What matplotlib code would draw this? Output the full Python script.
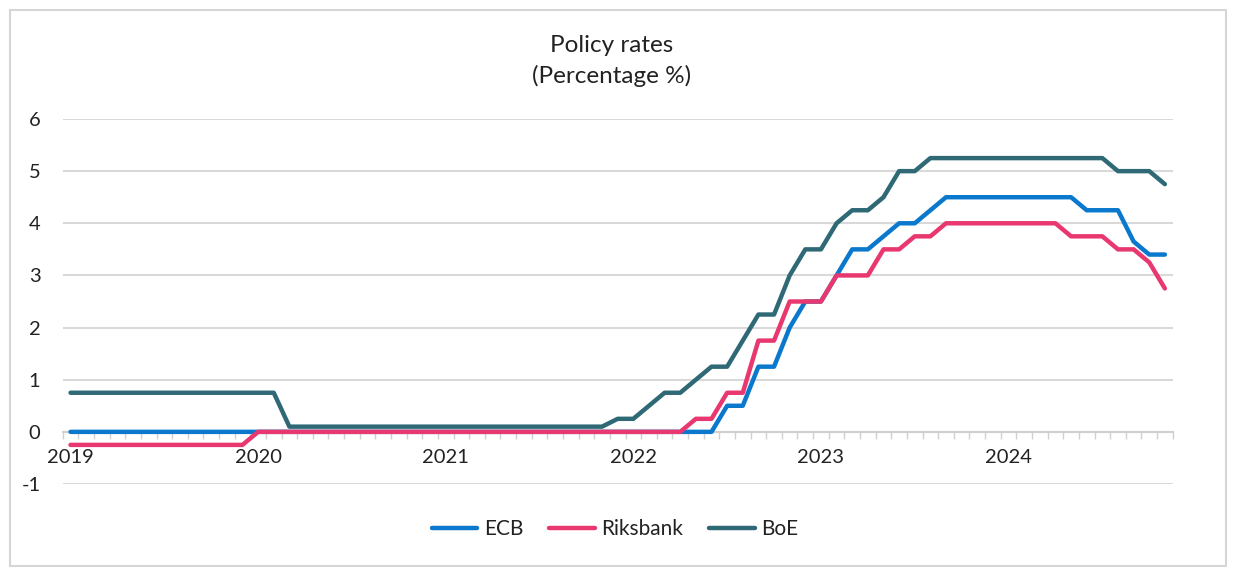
import matplotlib
matplotlib.use("Agg")
import matplotlib.pyplot as plt
import numpy as np
from matplotlib.patches import Rectangle

plt.rcParams['font.family'] = ['Lato', 'DejaVu Sans']

# Monthly, Jan 2019 .. Nov 2024 (71 months)
months = [f"{y}-{m:02d}" for y in range(2019, 2025) for m in range(1, 13)][:71]
year_labels = ["2019", "2020", "2021", "2022", "2023", "2024"]

ecb = ([0.0] * 42 +                      # Jan 2019 - Jun 2022
       [0.5, 0.5, 1.25, 1.25, 2.0, 2.5,  # Jul - Dec 2022
        2.5, 3.0, 3.5, 3.5, 3.75, 4.0, 4.0, 4.25, 4.5, 4.5, 4.5, 4.5,  # 2023
        4.5, 4.5, 4.5, 4.5, 4.5, 4.25, 4.25, 4.25, 3.65, 3.4, 3.4])     # 2024

riksbank = ([-0.25] * 12 +               # 2019
            [0.0] * 28 +                 # Jan 2020 - Apr 2022
            [0.25, 0.25, 0.75, 0.75, 1.75, 1.75, 2.5, 2.5,  # May - Dec 2022
             2.5, 3.0, 3.0, 3.0, 3.5, 3.5, 3.75, 3.75, 4.0, 4.0, 4.0, 4.0,  # 2023
             4.0, 4.0, 4.0, 4.0, 3.75, 3.75, 3.75, 3.5, 3.5, 3.25, 2.75])   # 2024

boe = ([0.75] * 14 +                     # Jan 2019 - Feb 2020
       [0.1] * 21 +                      # Mar 2020 - Nov 2021
       [0.25,                            # Dec 2021
        0.25, 0.5, 0.75, 0.75, 1.0, 1.25, 1.25, 1.75, 2.25, 2.25, 3.0, 3.5,  # 2022
        3.5, 4.0, 4.25, 4.25, 4.5, 5.0, 5.0, 5.25, 5.25, 5.25, 5.25, 5.25,   # 2023
        5.25, 5.25, 5.25, 5.25, 5.25, 5.25, 5.25, 5.0, 5.0, 5.0, 4.75])      # 2024

series = [("ECB", ecb, "#0A78CC"), ("Riksbank", riksbank, "#E8386F"), ("BoE", boe, "#2F6975")]

fig = plt.figure(figsize=(12.33, 5.79), dpi=100)
ax = fig.add_axes([62.7 / 1233, 1 - 484 / 579, (1172.7 - 62.7) / 1233, (484 - 119) / 579])

x = np.arange(len(months))
for name, vals, col in series:
    ax.plot(x, vals, color=col, lw=3.2, label=name, solid_capstyle='round', solid_joinstyle='round', zorder=3)

ax.set_xlim(-0.5, len(months) - 0.5)
ax.set_ylim(-1, 6)
ax.set_yticks(range(-1, 7))
ax.set_yticklabels([str(v) for v in range(-1, 7)])
ax.grid(axis='y', color='#d9d9d9', lw=1.5, zorder=0)
ax.set_axisbelow(True)

for s in ['top', 'right', 'left']:
    ax.spines[s].set_visible(False)
ax.spines['bottom'].set_position(('data', 0))
ax.spines['bottom'].set_color('#d0d0d0')
ax.spines['bottom'].set_linewidth(1.5)
ax.spines['bottom'].set_zorder(1)

year_pos = [months.index(f"{y}-01") for y in year_labels]
ax.set_xticks(year_pos)
ax.set_xticklabels(year_labels)
ax.set_xticks(np.arange(-0.5, len(months)), minor=True)
ax.tick_params(axis='x', which='major', length=0, pad=12, labelsize=14.5, labelcolor='#222222')
ax.tick_params(axis='x', which='minor', length=5, width=1, color='#d0d0d0', direction='out')
ax.tick_params(axis='y', length=0, pad=16, labelsize=14.5, labelcolor='#222222')

fig.text(612 / 1233, 1 - 45 / 579, "Policy rates", ha='center', va='center', fontsize=17.5, color='#222222')
fig.text(612 / 1233, 1 - 76 / 579, "(Percentage %)", ha='center', va='center', fontsize=17.5, color='#222222')

leg = fig.legend(loc='center', bbox_to_anchor=(615 / 1233, 1 - 529 / 579), ncol=3, frameon=False,
                 fontsize=15, handlelength=2.2, handletextpad=0.3, columnspacing=1.25)
for t in leg.get_texts():
    t.set_color('#222222')

fig.patches.append(Rectangle((10 / 1233, 1 - 566 / 579), (1226 - 10) / 1233, (566 - 10) / 579,
                             transform=fig.transFigure, fill=False, edgecolor='#d5d5d5', lw=1.5))

fig.savefig("out.png", dpi=100)
